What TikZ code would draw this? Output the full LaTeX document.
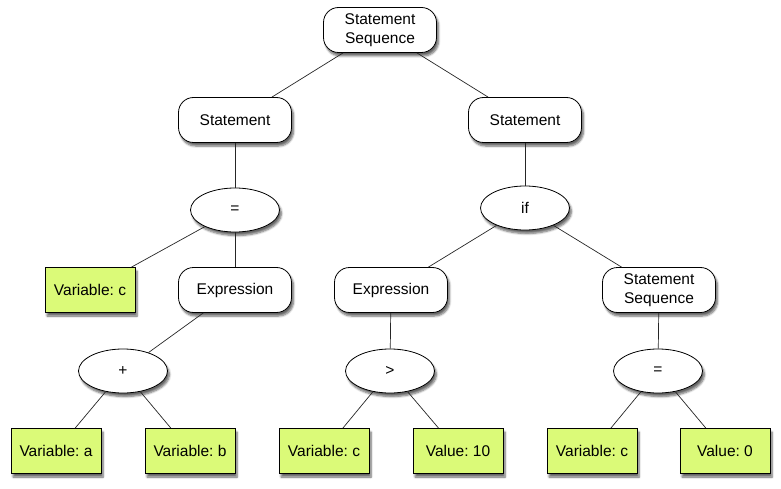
\documentclass[tikz,border=0pt]{standalone}
\usepackage{fontspec}
\setmainfont{Liberation Sans}
\usetikzlibrary{shapes.geometric,shadows.blur}
\definecolor{leafgreen}{RGB}{219,250,120}
\tikzset{
  base/.style={draw=black, line width=0.8pt, fill=white, font=\fontsize{15.5}{19}\selectfont\frenchspacing, align=center, inner sep=0pt,
    blur shadow={shadow xshift=2pt, shadow yshift=-3.5pt, shadow blur steps=6, shadow opacity=60}},
  roundbox/.style={base, rectangle, rounded corners=15pt, minimum width=113pt, minimum height=45pt},
  opnode/.style={base, ellipse, minimum width=89pt, minimum height=44pt},
  leafbox/.style={base, rectangle, fill=leafgreen, minimum width=90pt, minimum height=45pt},
  link/.style={draw=black!85, line width=0.7pt}
}
\begin{document}
\begin{tikzpicture}[x=1pt,y=-1pt]
\useasboundingbox (0,0) rectangle (781,489);
\node[roundbox] (root) at (380,30) {Statement\\Sequence};
\node[roundbox] (stL) at (235,120) {Statement};
\node[roundbox] (stR) at (525,120) {Statement};
\node[opnode] (eqL) at (235,210) {=};
\node[opnode] (if) at (525,208) {if};
\node[leafbox] (varc1) at (90,290) {Variable: c};
\node[roundbox] (exL) at (235,290) {Expression};
\node[roundbox] (exM) at (391,290) {Expression};
\node[roundbox] (seqR) at (659,290) {Statement\\Sequence};
\node[opnode] (plus) at (123,371) {+};
\node[opnode] (gt) at (390,371) {>};
\node[opnode] (eqR) at (658,371) {=};
\node[leafbox] (vara) at (56,451) {Variable: a};
\node[leafbox] (varb) at (190,451) {Variable: b};
\node[leafbox] (varc2) at (324,451) {Variable: c};
\node[leafbox] (val10) at (458,451) {Value: 10};
\node[leafbox] (varc3) at (592,451) {Variable: c};
\node[leafbox] (val0) at (725,451) {Value: 0};
\path[link] (root) -- (stL);
\path[link] (root) -- (stR);
\path[link] (stL) -- (eqL);
\path[link] (stR) -- (if);
\path[link] (eqL) -- (varc1);
\path[link] (eqL) -- (exL);
\path[link] (if) -- (exM);
\path[link] (if) -- (seqR);
\path[link] (exL) -- (plus);
\path[link] (exM) -- (gt);
\path[link] (seqR) -- (eqR);
\path[link] (plus) -- (vara);
\path[link] (plus) -- (varb);
\path[link] (gt) -- (varc2);
\path[link] (gt) -- (val10);
\path[link] (eqR) -- (varc3);
\path[link] (eqR) -- (val0);
\end{tikzpicture}
\end{document}
